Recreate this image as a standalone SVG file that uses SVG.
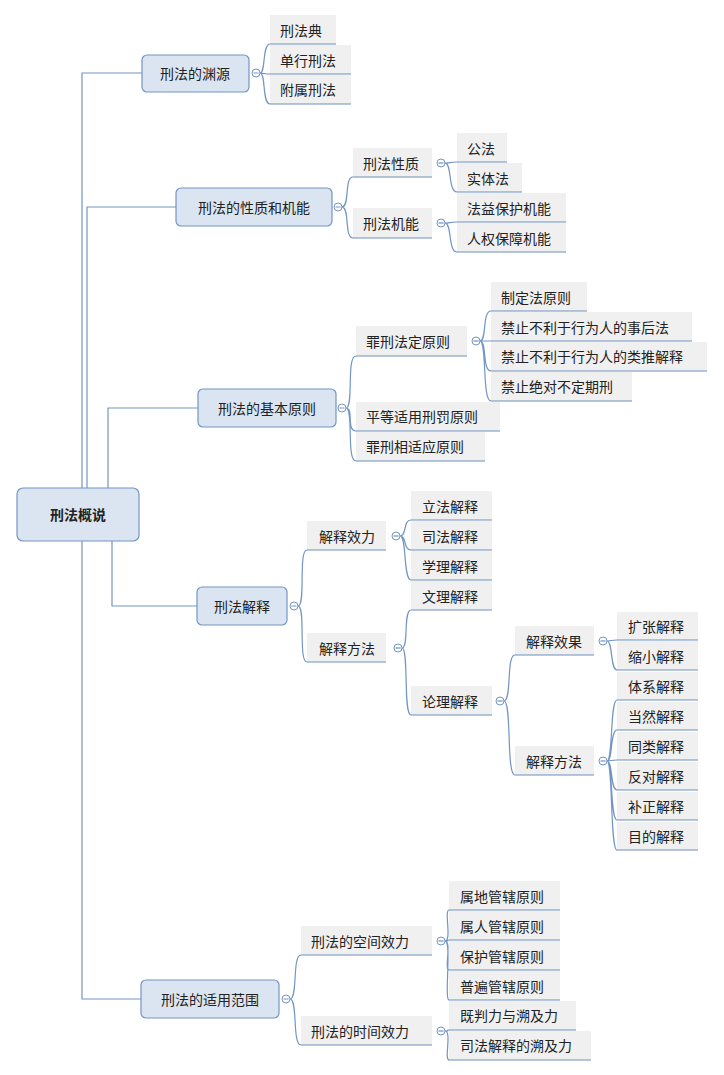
<svg xmlns="http://www.w3.org/2000/svg" width="724" height="1075" viewBox="0 0 724 1075">
<style>
text{font-family:"Noto Sans CJK SC","Microsoft YaHei",sans-serif;font-size:14px;fill:#222;dominant-baseline:central}
.b rect{fill:#dbe5f1;stroke:#7395c4;stroke-width:1.2}
.l rect{fill:#f0f0f0}
.l line{stroke:#6d8fc0;stroke-width:1.2}
.c{fill:#fff;stroke:#7395c4;stroke-width:1}
.cl{fill:none;stroke:#7395c4;stroke-width:1.2}
.m{stroke:#7395c4;stroke-width:1}
</style>
<rect width="724" height="1075" fill="#fff"/>
<g id="connectors" class="cl">
<path d="M82 488 V73 H142"/>
<path d="M87 488 V207 H176"/>
<path d="M108 488 V408 H198"/>
<path d="M112 541 V606 H197"/>
<path d="M82 541 V999 H141"/>
<path d="M260 73 C266 73 262 44 270 44 M260 73 C266 73 262 74 270 74 M260 73 C266 73 262 104 270 104"/>
<path d="M342 207 C350 207 344 177 353 177 M342 207 C350 207 344 238 353 238"/>
<path d="M445 163 C452 163 448 162 457 162 M445 163 C452 163 448 192 457 192"/>
<path d="M445 223 C452 223 448 222 457 222 M445 223 C452 223 448 252 457 252"/>
<path d="M346 408 C354 408 346 356 356 356 M346 408 C354 408 346 431 356 431 M346 408 C354 408 346 461 356 461"/>
<path d="M480 341 C487 341 482 311 491 311 M480 341 C487 341 482 341 491 341 M480 341 C487 341 482 371 491 371 M480 341 C487 341 482 401 491 401"/>
<path d="M298 606 C306 606 298 550 307 550 M298 606 C306 606 298 662 307 662"/>
<path d="M400 536 C407 536 403 520 411 520 M400 536 C407 536 403 550 411 550 M400 536 C407 536 403 580 411 580"/>
<path d="M402 648 C409 648 403 610 411 610 M402 648 C409 648 403 715 411 715"/>
<path d="M504 701 C512 701 506 655 515 655 M504 701 C512 701 506 775 515 775"/>
<path d="M607 641 C613 641 610 640 617 640 M607 641 C613 641 610 670 617 670"/>
<path d="M607 761 C613 761 610 700 617 700 M607 761 C613 761 610 730 617 730 M607 761 C613 761 610 760 617 760 M607 761 C613 761 610 790 617 790 M607 761 C613 761 610 820 617 820 M607 761 C613 761 610 850 617 850"/>
<path d="M290 999 C298 999 292 955 301 955 M290 999 C298 999 292 1045 301 1045"/>
<path d="M445 941 C452 941 444 910 449 910 M445 941 C452 941 444 940 449 940 M445 941 C452 941 444 970 449 970 M445 941 C452 941 444 1000 449 1000"/>
<path d="M445 1031 C452 1031 444 1030 449 1030 M445 1031 C452 1031 444 1060 449 1060"/>
</g>
<g id="root" class="b"><rect x="17" y="488" width="122" height="53" rx="6"/><text x="78" y="514" text-anchor="middle" font-weight="bold" fill="#1f3a60">刑法概说</text></g>
<g id="n1" class="b"><rect x="142" y="55" width="107" height="37" rx="5"/><text x="195" y="73" text-anchor="middle">刑法的渊源</text><circle class="c" cx="256" cy="73" r="4"/><line class="m" x1="253.5" y1="73" x2="258.5" y2="73"/></g>
<g id="n2" class="b"><rect x="176" y="188" width="156" height="38" rx="5"/><text x="254" y="207" text-anchor="middle">刑法的性质和机能</text><circle class="c" cx="338" cy="207" r="4"/><line class="m" x1="335.5" y1="207" x2="340.5" y2="207"/></g>
<g id="n3" class="b"><rect x="198" y="389" width="138" height="38" rx="5"/><text x="267" y="408" text-anchor="middle">刑法的基本原则</text><circle class="c" cx="342" cy="408" r="4"/><line class="m" x1="339.5" y1="408" x2="344.5" y2="408"/></g>
<g id="n4" class="b"><rect x="197" y="587" width="90" height="38" rx="5"/><text x="242" y="606" text-anchor="middle">刑法解释</text><circle class="c" cx="294" cy="606" r="4"/><line class="m" x1="291.5" y1="606" x2="296.5" y2="606"/></g>
<g id="n5" class="b"><rect x="141" y="980" width="138" height="38" rx="5"/><text x="210" y="999" text-anchor="middle">刑法的适用范围</text><circle class="c" cx="286" cy="999" r="4"/><line class="m" x1="283.5" y1="999" x2="288.5" y2="999"/></g>

<g id="l1" class="l"><rect x="270" y="15" width="66" height="29"/><line x1="270" y1="44" x2="336" y2="44"/><text x="280" y="30">刑法典</text></g>
<g id="l2" class="l"><rect x="270" y="45" width="81" height="29"/><line x1="270" y1="74" x2="351" y2="74"/><text x="280" y="60">单行刑法</text></g>
<g id="l3" class="l"><rect x="270" y="75" width="81" height="29"/><line x1="270" y1="104" x2="351" y2="104"/><text x="280" y="89">附属刑法</text></g>

<g id="s1" class="l"><rect x="353" y="148" width="79" height="29"/><line x1="353" y1="177" x2="432" y2="177"/><text x="363" y="163">刑法性质</text><circle class="c" cx="441" cy="163" r="4"/><line x1="438.5" y1="163" x2="443.5" y2="163"/></g>
<g id="s2" class="l"><rect x="353" y="208" width="79" height="30"/><line x1="353" y1="238" x2="432" y2="238"/><text x="363" y="223">刑法机能</text><circle class="c" cx="441" cy="223" r="4"/><line x1="438.5" y1="223" x2="443.5" y2="223"/></g>
<g id="s3" class="l"><rect x="457" y="133" width="50" height="29"/><line x1="457" y1="162" x2="507" y2="162"/><text x="467" y="148">公法</text></g>
<g id="s4" class="l"><rect x="457" y="163" width="65" height="29"/><line x1="457" y1="192" x2="522" y2="192"/><text x="467" y="178">实体法</text></g>
<g id="s5" class="l"><rect x="457" y="193" width="109" height="29"/><line x1="457" y1="222" x2="566" y2="222"/><text x="467" y="208">法益保护机能</text></g>
<g id="s6" class="l"><rect x="457" y="223" width="109" height="29"/><line x1="457" y1="252" x2="566" y2="252"/><text x="467" y="238">人权保障机能</text></g>

<g id="p1" class="l"><rect x="356" y="326" width="111" height="30"/><line x1="356" y1="356" x2="467" y2="356"/><text x="366" y="341">罪刑法定原则</text><circle class="c" cx="476" cy="341" r="4"/><line x1="473.5" y1="341" x2="478.5" y2="341"/></g>
<g id="p2" class="l"><rect x="356" y="402" width="144" height="29"/><line x1="356" y1="431" x2="500" y2="431"/><text x="366" y="416">平等适用刑罚原则</text></g>
<g id="p3" class="l"><rect x="356" y="432" width="129" height="29"/><line x1="356" y1="461" x2="485" y2="461"/><text x="366" y="446">罪刑相适应原则</text></g>
<g id="p4" class="l"><rect x="491" y="282" width="96" height="29"/><line x1="491" y1="311" x2="587" y2="311"/><text x="501" y="297">制定法原则</text></g>
<g id="p5" class="l"><rect x="491" y="312" width="201" height="29"/><line x1="491" y1="341" x2="692" y2="341"/><text x="501" y="327">禁止不利于行为人的事后法</text></g>
<g id="p6" class="l"><rect x="491" y="342" width="216" height="29"/><line x1="491" y1="371" x2="707" y2="371"/><text x="501" y="356">禁止不利于行为人的类推解释</text></g>
<g id="p7" class="l"><rect x="491" y="372" width="141" height="29"/><line x1="491" y1="401" x2="632" y2="401"/><text x="501" y="386">禁止绝对不定期刑</text></g>

<g id="e1" class="l"><rect x="307" y="521" width="79" height="29"/><line x1="307" y1="550" x2="386" y2="550"/><text x="319" y="536">解释效力</text><circle class="c" cx="396" cy="536" r="4"/><line x1="393.5" y1="536" x2="398.5" y2="536"/></g>
<g id="e2" class="l"><rect x="307" y="633" width="79" height="29"/><line x1="307" y1="662" x2="386" y2="662"/><text x="319" y="648">解释方法</text><circle class="c" cx="398" cy="648" r="4"/><line x1="395.5" y1="648" x2="400.5" y2="648"/></g>
<g id="e3" class="l"><rect x="411" y="491" width="81" height="29"/><line x1="411" y1="520" x2="492" y2="520"/><text x="422" y="506">立法解释</text></g>
<g id="e4" class="l"><rect x="411" y="521" width="81" height="29"/><line x1="411" y1="550" x2="492" y2="550"/><text x="422" y="536">司法解释</text></g>
<g id="e5" class="l"><rect x="411" y="551" width="81" height="29"/><line x1="411" y1="580" x2="492" y2="580"/><text x="422" y="566">学理解释</text></g>
<g id="e6" class="l"><rect x="411" y="581" width="81" height="29"/><line x1="411" y1="610" x2="492" y2="610"/><text x="422" y="596">文理解释</text></g>
<g id="e7" class="l"><rect x="411" y="686" width="81" height="29"/><line x1="411" y1="715" x2="492" y2="715"/><text x="422" y="701">论理解释</text><circle class="c" cx="500" cy="701" r="4"/><line x1="497.5" y1="701" x2="502.5" y2="701"/></g>
<g id="e8" class="l"><rect x="515" y="626" width="79" height="29"/><line x1="515" y1="655" x2="594" y2="655"/><text x="526" y="641">解释效果</text><circle class="c" cx="603" cy="641" r="4"/><line x1="600.5" y1="641" x2="605.5" y2="641"/></g>
<g id="e9" class="l"><rect x="515" y="746" width="79" height="29"/><line x1="515" y1="775" x2="594" y2="775"/><text x="526" y="761">解释方法</text><circle class="c" cx="603" cy="761" r="4"/><line x1="600.5" y1="761" x2="605.5" y2="761"/></g>
<g id="f1" class="l"><rect x="617" y="612" width="81" height="28"/><line x1="617" y1="640" x2="698" y2="640"/><text x="628" y="626">扩张解释</text></g>
<g id="f2" class="l"><rect x="617" y="641" width="81" height="29"/><line x1="617" y1="670" x2="698" y2="670"/><text x="628" y="656">缩小解释</text></g>
<g id="f3" class="l"><rect x="617" y="672" width="81" height="28"/><line x1="617" y1="700" x2="698" y2="700"/><text x="628" y="686">体系解释</text></g>
<g id="f4" class="l"><rect x="617" y="702" width="81" height="28"/><line x1="617" y1="730" x2="698" y2="730"/><text x="628" y="716">当然解释</text></g>
<g id="f5" class="l"><rect x="617" y="732" width="81" height="28"/><line x1="617" y1="760" x2="698" y2="760"/><text x="628" y="746">同类解释</text></g>
<g id="f6" class="l"><rect x="617" y="762" width="81" height="28"/><line x1="617" y1="790" x2="698" y2="790"/><text x="628" y="776">反对解释</text></g>
<g id="f7" class="l"><rect x="617" y="792" width="81" height="28"/><line x1="617" y1="820" x2="698" y2="820"/><text x="628" y="806">补正解释</text></g>
<g id="f8" class="l"><rect x="617" y="822" width="81" height="28"/><line x1="617" y1="850" x2="698" y2="850"/><text x="628" y="836">目的解释</text></g>

<g id="r1" class="l"><rect x="301" y="926" width="131" height="29"/><line x1="301" y1="955" x2="432" y2="955"/><text x="311" y="941">刑法的空间效力</text><circle class="c" cx="441" cy="941" r="4"/><line x1="438.5" y1="941" x2="443.5" y2="941"/></g>
<g id="r2" class="l"><rect x="301" y="1016" width="131" height="29"/><line x1="301" y1="1045" x2="432" y2="1045"/><text x="311" y="1031">刑法的时间效力</text><circle class="c" cx="441" cy="1031" r="4"/><line x1="438.5" y1="1031" x2="443.5" y2="1031"/></g>
<g id="r3" class="l"><rect x="449" y="881" width="111" height="29"/><line x1="449" y1="910" x2="560" y2="910"/><text x="460" y="896">属地管辖原则</text></g>
<g id="r4" class="l"><rect x="449" y="911" width="111" height="29"/><line x1="449" y1="940" x2="560" y2="940"/><text x="460" y="926">属人管辖原则</text></g>
<g id="r5" class="l"><rect x="449" y="941" width="111" height="29"/><line x1="449" y1="970" x2="560" y2="970"/><text x="460" y="956">保护管辖原则</text></g>
<g id="r6" class="l"><rect x="449" y="971" width="111" height="29"/><line x1="449" y1="1000" x2="560" y2="1000"/><text x="460" y="986">普遍管辖原则</text></g>
<g id="r7" class="l"><rect x="449" y="1001" width="127" height="29"/><line x1="449" y1="1030" x2="576" y2="1030"/><text x="460" y="1015">既判力与溯及力</text></g>
<g id="r8" class="l"><rect x="449" y="1031" width="142" height="29"/><line x1="449" y1="1060" x2="591" y2="1060"/><text x="460" y="1045">司法解释的溯及力</text></g>
</svg>
